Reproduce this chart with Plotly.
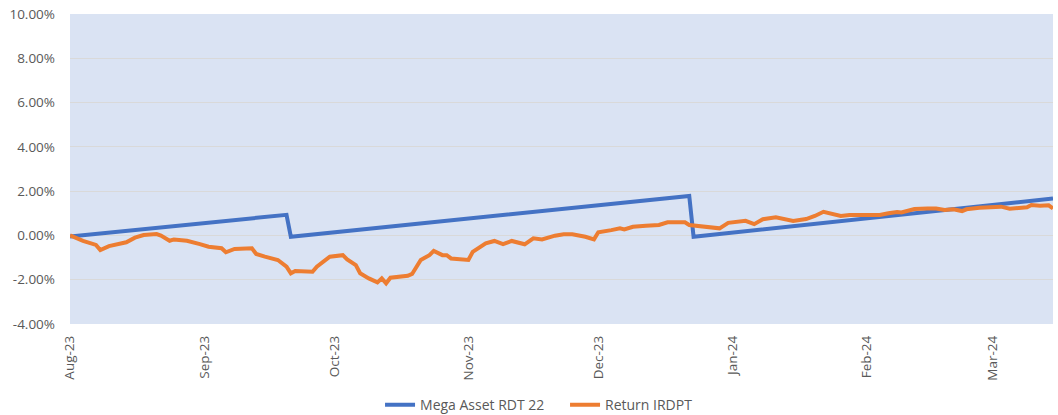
import plotly.graph_objects as go

# Mega Asset RDT 22 (cumulative return, %)
mega_dates = ["2023-08-01", "2023-08-15", "2023-09-01", "2023-09-20", "2023-09-21",
              "2023-10-15", "2023-11-15", "2023-12-22", "2023-12-23", "2024-01-17",
              "2024-02-15", "2024-03-15"]
mega_vals = [-0.05, 0.23, 0.58, 0.93, -0.06, 0.42, 1.06, 1.78, -0.06, 0.46, 1.07, 1.67]

# Return IRDPT (cumulative return, %)
irdpt_dates = [
    "2023-08-01", "2023-08-04", "2023-08-07", "2023-08-08", "2023-08-10", "2023-08-11",
    "2023-08-14", "2023-08-16", "2023-08-18", "2023-08-21", "2023-08-22", "2023-08-24",
    "2023-08-25", "2023-08-28", "2023-08-30", "2023-08-31", "2023-09-02", "2023-09-05",
    "2023-09-06", "2023-09-08", "2023-09-12", "2023-09-13", "2023-09-15", "2023-09-18",
    "2023-09-20", "2023-09-21", "2023-09-22", "2023-09-26", "2023-09-27", "2023-09-29",
    "2023-09-30", "2023-10-03", "2023-10-04", "2023-10-06", "2023-10-07", "2023-10-09",
    "2023-10-11", "2023-10-12", "2023-10-13", "2023-10-14", "2023-10-16", "2023-10-18",
    "2023-10-19", "2023-10-21", "2023-10-23", "2023-10-24", "2023-10-26", "2023-10-27",
    "2023-10-28", "2023-11-01", "2023-11-02", "2023-11-05", "2023-11-07", "2023-11-09",
    "2023-11-11", "2023-11-12", "2023-11-14", "2023-11-16", "2023-11-18", "2023-11-21",
    "2023-11-23", "2023-11-25", "2023-11-28", "2023-11-30", "2023-12-01", "2023-12-04",
    "2023-12-06", "2023-12-07", "2023-12-09", "2023-12-12", "2023-12-15", "2023-12-17",
    "2023-12-21", "2023-12-22", "2023-12-24", "2023-12-27", "2023-12-29", "2023-12-31",
    "2024-01-02", "2024-01-04", "2024-01-06", "2024-01-08", "2024-01-11", "2024-01-13",
    "2024-01-15", "2024-01-18", "2024-01-20", "2024-01-22", "2024-01-24", "2024-01-26",
    "2024-01-28", "2024-01-31", "2024-02-02", "2024-02-04", "2024-02-06", "2024-02-08",
    "2024-02-09", "2024-02-12", "2024-02-15", "2024-02-17", "2024-02-19", "2024-02-21",
    "2024-02-23", "2024-02-24", "2024-02-27", "2024-03-01", "2024-03-03", "2024-03-05",
    "2024-03-09", "2024-03-10", "2024-03-12", "2024-03-14", "2024-03-15",
]
irdpt_vals = [
    0.00, -0.25, -0.43, -0.66, -0.48, -0.43,
    -0.31, -0.10, 0.02, 0.06, -0.01, -0.24,
    -0.18, -0.24, -0.37, -0.39, -0.51, -0.58,
    -0.76, -0.61, -0.58, -0.84, -0.96, -1.11,
    -1.41, -1.71, -1.61, -1.64, -1.41, -1.08,
    -0.96, -0.89, -1.08, -1.34, -1.71, -1.94,
    -2.12, -1.94, -2.16, -1.91, -1.85, -1.82,
    -1.74, -1.11, -0.89, -0.70, -0.89, -0.89,
    -1.04, -1.11, -0.74, -0.36, -0.25, -0.39,
    -0.25, -0.31, -0.40, -0.13, -0.18, -0.01,
    0.05, 0.05, -0.06, -0.18, 0.14, 0.24,
    0.32, 0.27, 0.39, 0.44, 0.47, 0.59,
    0.59, 0.47, 0.42, 0.39, 0.32, 0.57,
    0.62, 0.66, 0.51, 0.73, 0.82, 0.73,
    0.65, 0.74, 0.88, 1.07, 0.97, 0.88,
    0.92, 0.92, 0.95, 0.92, 1.00, 1.06,
    1.04, 1.19, 1.22, 1.22, 1.15, 1.18,
    1.10, 1.18, 1.25, 1.30, 1.30, 1.21,
    1.27, 1.37, 1.34, 1.36, 1.22,
]

y_ticks = [-4, -2, 0, 2, 4, 6, 8, 10]
y_tick_labels = ["-4.00%", "-2.00%", "0.00%", "2.00%", "4.00%", "6.00%", "8.00%", "10.00%"]

FONT = "Open Sans, Liberation Sans, sans-serif"
GRAY = "#595959"

fig = go.Figure()
fig.add_trace(go.Scatter(
    x=mega_dates, y=mega_vals, mode="lines", name="Mega Asset RDT 22",
    line=dict(color="#4472C4", width=4),
))
fig.add_trace(go.Scatter(
    x=irdpt_dates, y=irdpt_vals, mode="lines", name="Return IRDPT",
    line=dict(color="#ED7D31", width=4),
))

fig.update_layout(
    width=1058, height=415,
    margin=dict(l=70, r=5, t=14, b=91, autoexpand=False),
    paper_bgcolor="white",
    plot_bgcolor="#DAE3F3",
    font=dict(family=FONT, size=13.5, color=GRAY),
    showlegend=True,
    legend=dict(orientation="h", x=0.3154, xanchor="left", y=-0.262, yanchor="middle",
                font=dict(family=FONT, size=14, color=GRAY),
                entrywidth=140, entrywidthmode="pixels",
                tracegroupgap=0),
)
fig.update_xaxes(
    type="date",
    range=["2023-08-01", "2024-03-15"],
    dtick="M1", tick0="2023-08-01",
    tickformat="%b-%y", tickangle=-90,
    showgrid=False, zeroline=False, showline=False,
    ticks="", ticklabelstandoff=8, automargin=False,
    tickfont=dict(family=FONT, size=13.5, color=GRAY),
)
fig.update_yaxes(
    range=[-4, 10],
    tickvals=y_ticks, ticktext=y_tick_labels,
    showgrid=True, gridcolor="#D9D9D9", gridwidth=1,
    zeroline=False, showline=False, ticks="",
    ticklabelstandoff=14, automargin=False,
    tickfont=dict(family=FONT, size=13.5, color=GRAY),
)

fig.write_html(
    "out.html",
    config={"displayModeBar": False},
    post_script="document.body.style.margin='0';document.body.style.overflow='hidden';",
)
